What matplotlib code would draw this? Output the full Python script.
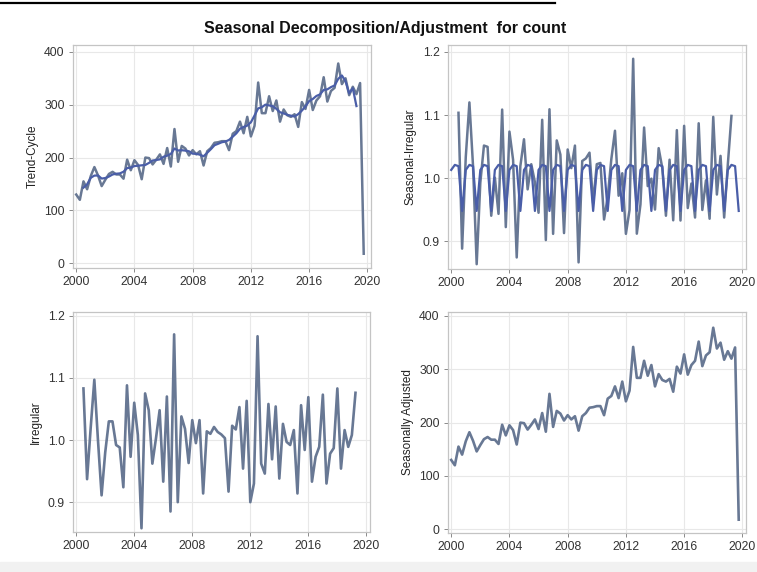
import numpy as np
import matplotlib
matplotlib.use("Agg")
import matplotlib.pyplot as plt
from matplotlib.lines import Line2D
from matplotlib.patches import Rectangle

plt.rcParams['font.family'] = ['Liberation Sans', 'DejaVu Sans']

# quarterly series 2000Q1 .. 2019Q4
start_year = 2000
n_quarters = 80

# seasonally adjusted count, one value per quarter
seas_adj = [130, 120, 155, 140, 165, 182, 166, 146, 158, 169, 173, 168,
            168, 160, 196, 176, 195, 186, 159, 200, 199, 187, 196, 206,
            188, 218, 183, 254, 192, 222, 217, 204, 214, 206, 212, 185,
            212, 218, 228, 229, 231, 231, 214, 245, 250, 268, 246, 277,
            240, 260, 342, 284, 284, 316, 288, 308, 268, 291, 280, 277,
            282, 258, 305, 292, 328, 290, 308, 316, 352, 306, 326, 332,
            378, 339, 350, 318, 334, 320, 341, 18]

# irregular component, 2000Q3 .. 2019Q2 (centered MA loses two quarters each end)
irregular = [1.083, 0.937, 1.020, 1.097, 1.000, 0.911, 0.980, 1.030,
             1.030, 0.992, 0.988, 0.924, 1.088, 0.973, 1.060, 1.008,
             0.858, 1.075, 1.048, 0.962, 1.003, 1.048, 0.933, 1.070,
             0.885, 1.170, 0.900, 1.038, 1.018, 0.963, 1.032, 0.995,
             1.032, 0.914, 1.014, 1.010, 1.021, 1.013, 1.009, 1.003,
             0.917, 1.023, 1.017, 1.053, 0.954, 1.063, 0.900, 0.930,
             1.167, 0.962, 0.946, 1.058, 0.969, 1.054, 0.938, 1.026,
             0.997, 0.992, 1.016, 0.914, 1.056, 0.984, 1.069, 0.933,
             0.973, 0.989, 1.073, 0.930, 0.978, 0.987, 1.083, 0.954,
             1.016, 0.989, 1.008, 1.076]

# seasonal factors for Q1..Q4
seasonal_factors = [1.013, 1.021, 1.019, 0.948]

t = start_year + np.arange(n_quarters) / 4.0
sa = np.array(seas_adj, dtype=float)
irr = np.array(irregular)
seasonal = np.tile(seasonal_factors, n_quarters // 4)
t_mid = t[2:-2]
trend = sa[2:-2] / irr
seas_irr = seasonal[2:-2] * irr

W, H = 757, 572
fig = plt.figure(figsize=(W / 100, H / 100), dpi=100)
fig.patch.set_facecolor('white')

GRAY_LINE = '#687894'
BLUE_LINE = '#4a5ea8'


def px_axes(l, t_, r, b):
    return fig.add_axes([l / W, 1 - b / H, (r - l) / W, (b - t_) / H])


def style(ax, ylim, yticks, ylabel, fmt):
    ax.set_xlim(1999.78, 2020.25)
    ax.set_ylim(*ylim)
    ax.set_xticks([2000, 2004, 2008, 2012, 2016, 2020])
    ax.set_yticks(yticks)
    ax.set_yticklabels([fmt.format(v) for v in yticks])
    ax.grid(True, color='#e8e8e8', lw=0.8)
    ax.set_axisbelow(True)
    for s in ax.spines.values():
        s.set_color('#c4c4c4')
        s.set_linewidth(0.9)
    ax.tick_params(colors='#333333', labelsize=8.8, length=3,
                   width=0.7, pad=3)
    ax.tick_params(axis='both', color='#8a8a8a')
    ax.set_ylabel(ylabel, fontsize=8.5, color='#222222', labelpad=4)


ax1 = px_axes(73, 45, 371, 268)
ax1.plot(t, sa, color=GRAY_LINE, lw=1.8)
ax1.plot(t_mid, trend, color=BLUE_LINE, lw=1.6)
style(ax1, (-9, 413), [0, 100, 200, 300, 400], 'Trend-Cycle', '{:.0f}')

ax2 = px_axes(448, 45, 746, 269)
ax2.plot(t_mid, seas_irr, color=GRAY_LINE, lw=1.8)
ax2.plot(t, seasonal, color=BLUE_LINE, lw=1.6)
style(ax2, (0.856, 1.211), [0.9, 1.0, 1.1, 1.2], 'Seasonal-Irregular', '{:.1f}')

ax3 = px_axes(73, 312, 370, 532)
ax3.plot(t_mid, irr, color=GRAY_LINE, lw=1.9)
style(ax3, (0.852, 1.206), [0.9, 1.0, 1.1, 1.2], 'Irregular', '{:.1f}')

ax4 = px_axes(448, 312, 746, 533)
ax4.plot(t, sa, color=GRAY_LINE, lw=1.9)
style(ax4, (-7, 407.5), [0, 100, 200, 300, 400], 'Seasonally Adjusted', '{:.0f}')

fig.text(385 / W, 1 - 28 / H, 'Seasonal Decomposition/Adjustment  for count',
         ha='center', va='center', fontsize=11.5, fontweight='bold',
         color='#111111')

# rule along the top edge and light strip at the bottom
fig.add_artist(Line2D([0, 555 / W], [1 - 3 / H, 1 - 3 / H], color='black',
                      lw=1.6, transform=fig.transFigure))
fig.add_artist(Rectangle((0, 0), 1, 10 / H, color='#f1f1f1',
                         transform=fig.transFigure, zorder=-1))

fig.savefig('out.png', dpi=100)
